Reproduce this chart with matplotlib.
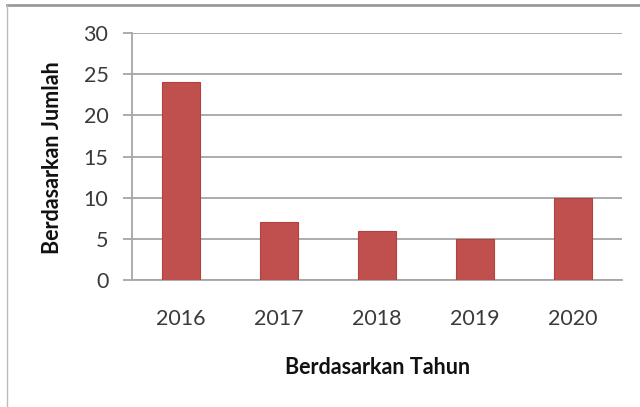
import matplotlib.pyplot as plt
import numpy as np

tahun = ['2016', '2017', '2018', '2019', '2020']
jumlah = [24, 7, 6, 5, 10]
y_ticks = [0, 5, 10, 15, 20, 25, 30]

plt.rcParams['font.family'] = ['Lato', 'DejaVu Sans']

fig = plt.figure(figsize=(6.4, 4.07), dpi=100)
ax = fig.add_axes([132 / 640, 1 - 280 / 407, 490 / 640, 247 / 407])

x = np.arange(len(tahun))
ax.bar(x, jumlah, width=0.38, color='#C0504D', edgecolor='#B5403D',
       linewidth=0.8, zorder=3)

ax.set_xlim(-0.5, len(tahun) - 0.5)
ax.set_ylim(0, 30)
ax.set_yticks(y_ticks)
ax.set_xticks(x)
ax.set_xticklabels(tahun)
ax.grid(axis='y', color='#A6A6A6', linewidth=1.3, zorder=0)

for s in ['top', 'right']:
    ax.spines[s].set_visible(False)
ax.spines['left'].set_color('#A6A6A6')
ax.spines['bottom'].set_color('#A6A6A6')
ax.spines['left'].set_linewidth(1.3)
ax.spines['bottom'].set_linewidth(1.3)

ax.tick_params(axis='y', length=6.5, width=1.3, color='#A6A6A6', pad=10.5,
               labelsize=15.5, labelcolor='#3A3A3A')
ax.tick_params(axis='x', length=0, pad=21, labelsize=15.5, labelcolor='#3A3A3A')

fig.text(378 / 640, 1 - 368 / 407, 'Berdasarkan Tahun', ha='center', va='center',
         fontsize=15.5, fontweight='bold', color='#111111')
fig.text(53 / 640, 1 - 158 / 407, 'Berdasarkan Jumlah', ha='center', va='center',
         rotation=90, fontsize=15.5, fontweight='bold', color='#111111')

# bingkai luar
fig.add_artist(plt.Line2D([7 / 640, 1], [1 - 5 / 407, 1 - 5 / 407],
                          transform=fig.transFigure, color='#9A9A9A', linewidth=2))
fig.add_artist(plt.Line2D([7 / 640, 7 / 640], [0, 1 - 5 / 407],
                          transform=fig.transFigure, color='#BBBBBB', linewidth=1))

fig.savefig('out.png', dpi=100)
